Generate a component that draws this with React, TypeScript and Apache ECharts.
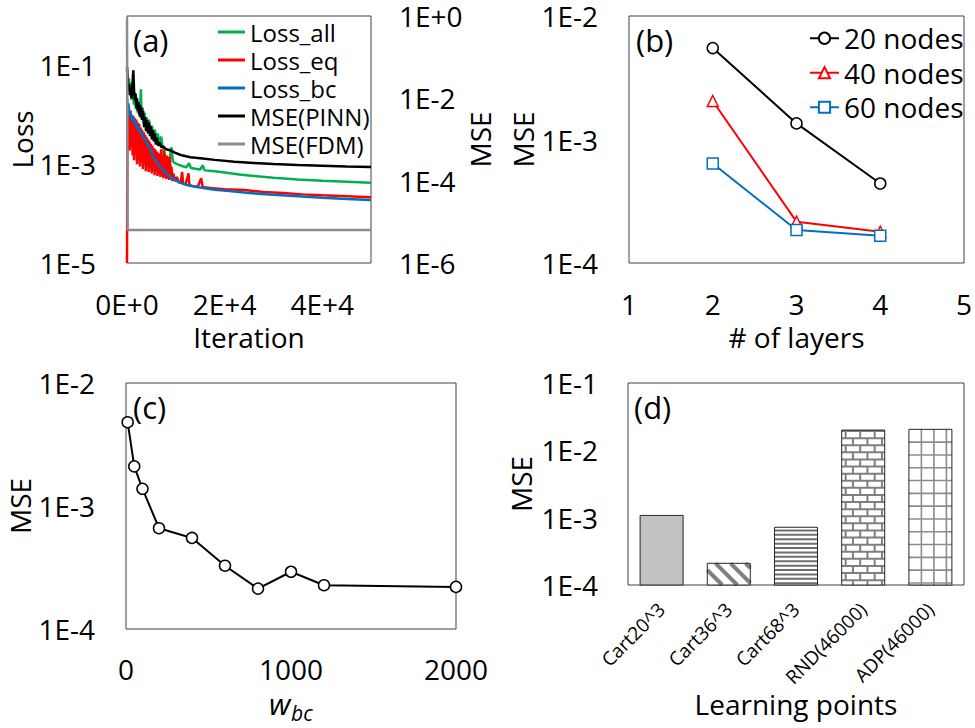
import React, { useEffect, useRef } from 'react';
import * as echarts from 'echarts';

const FONT = '"Open Sans", "Noto Sans", sans-serif';

// ---------- panel (a): training history [iteration, value] ----------
const lossAll: [number, number][] = [
  [0, 8e-2], [200, 3e-2], [400, 5.5e-2], [600, 2.5e-2], [800, 4.5e-2], [1000, 2e-2], [1200, 3.5e-2],
  [1400, 1.6e-2], [1600, 2.8e-2], [1800, 1.3e-2], [2000, 2.2e-2], [2200, 1.1e-2], [2400, 1.8e-2],
  [2600, 9e-3], [2850, 3.3e-2], [3000, 8e-3], [3200, 1.4e-2], [3400, 7e-3], [3600, 1.1e-2], [3800, 6e-3],
  [4000, 9e-3], [4200, 5.5e-3], [4500, 8e-3], [4800, 4.5e-3], [5100, 6e-3], [5400, 3.8e-3], [5700, 5e-3],
  [6000, 3.2e-3], [6300, 4.2e-3], [6600, 2.7e-3], [7000, 3.6e-3], [7300, 2.2e-3], [7600, 1.8e-3],
  [7900, 1.4e-3], [8200, 1.2e-3], [8600, 1.1e-3], [9100, 2.2e-3], [9400, 1.15e-3], [9800, 1.05e-3],
  [10300, 1.0e-3], [10800, 9.6e-4], [11400, 9.1e-4], [12200, 8.7e-4], [12700, 1.05e-3], [13100, 8.4e-4],
  [14000, 8.1e-4], [15000, 7.8e-4], [15500, 9.5e-4], [15900, 7.5e-4], [18000, 7.2e-4], [20000, 6.8e-4],
  [23000, 6.2e-4], [26000, 5.8e-4], [30000, 5.3e-4], [35000, 4.9e-4], [40000, 4.6e-4], [45000, 4.4e-4],
  [50000, 4.2e-4],
];
const lossEq: [number, number][] = [
  [0, 1e-5], [100, 1.4e-2], [250, 2.5e-3], [400, 1.3e-2], [550, 1.9e-3], [700, 1.2e-2], [850, 2.2e-3],
  [1000, 1.0e-2], [1150, 1.5e-3], [1300, 9.5e-3], [1450, 1.2e-3], [1600, 8.5e-3], [1750, 1.6e-3],
  [1900, 8e-3], [2050, 1.0e-3], [2200, 7e-3], [2350, 1.2e-3], [2500, 6.5e-3], [2650, 9e-4], [2800, 5.5e-3],
  [2950, 1.1e-3], [3100, 5e-3], [3250, 8e-4], [3400, 4.5e-3], [3550, 1.0e-3], [3700, 4e-3], [3850, 7.2e-4],
  [4000, 3.6e-3], [4150, 9e-4], [4300, 3.2e-3], [4450, 7e-4], [4600, 2.9e-3], [4750, 8.5e-4], [4900, 2.6e-3],
  [5050, 6.5e-4], [5200, 2.4e-3], [5350, 7.5e-4], [5500, 2.1e-3], [5650, 6e-4], [5800, 2e-3], [5950, 7e-4],
  [6100, 1.8e-3], [6250, 5.8e-4], [6400, 1.7e-3], [6550, 6.5e-4], [6700, 1.6e-3], [6850, 5.5e-4],
  [7000, 2.0e-3], [7150, 6e-4], [7300, 1.4e-3], [7450, 5.2e-4], [7600, 1.9e-3], [7750, 5.5e-4],
  [7900, 1.3e-3], [8050, 5e-4], [8200, 1.5e-3], [8350, 5.2e-4], [8500, 1.4e-3], [8650, 4.8e-4],
  [8800, 1.4e-3], [8950, 5e-4], [9100, 9e-4], [9300, 4.6e-4], [9500, 6.5e-4], [9800, 4.5e-4],
  [10200, 5.5e-4], [10600, 4.3e-4], [11000, 4.2e-4], [11300, 7e-4], [11500, 4.0e-4], [12000, 3.9e-4],
  [12600, 6.5e-4], [12800, 3.7e-4], [13500, 3.6e-4], [14500, 3.5e-4], [15200, 5.2e-4], [15500, 3.45e-4],
  [17000, 3.3e-4], [20000, 3.1e-4], [24000, 3.0e-4], [28000, 2.75e-4], [32000, 2.6e-4], [36000, 2.45e-4],
  [40000, 2.35e-4], [45000, 2.25e-4], [50000, 2.15e-4],
];
const lossBc: [number, number][] = [
  [0, 2.2e-2], [150, 1.4e-2], [300, 1.7e-2], [500, 1.0e-2], [700, 1.2e-2], [900, 8e-3], [1100, 9.5e-3],
  [1300, 7e-3], [1500, 8e-3], [1700, 6e-3], [1900, 6.8e-3], [2100, 5.2e-3], [2300, 5.8e-3], [2500, 4.6e-3],
  [2700, 5e-3], [2900, 4e-3], [3100, 4.3e-3], [3400, 3.4e-3], [3700, 3.3e-3], [4000, 2.6e-3], [4300, 2.5e-3],
  [4700, 2.0e-3], [5000, 1.8e-3], [5400, 1.4e-3], [5800, 1.25e-3], [6300, 1.0e-3], [6800, 8.8e-4],
  [7400, 7.6e-4], [8000, 6.6e-4], [8800, 5.6e-4], [9800, 4.8e-4], [11000, 4.2e-4], [12300, 3.8e-4],
  [14000, 3.5e-4], [15600, 3.3e-4], [18000, 3.05e-4], [21000, 2.85e-4], [25000, 2.6e-4], [30000, 2.4e-4],
  [35000, 2.25e-4], [40000, 2.1e-4], [45000, 1.98e-4], [50000, 1.88e-4],
];
const msePinn: [number, number][] = [
  [0, 5.8e-2], [150, 2.5e-2], [300, 1.6e-2], [450, 2.2e-2], [600, 1.2e-2], [750, 1.8e-2], [900, 1.0e-2],
  [1100, 2.0e-2], [1300, 4.8e-2], [1450, 1.5e-2], [1600, 9e-3], [1750, 1.3e-2], [1900, 6e-3], [2050, 1.0e-2],
  [2200, 5e-3], [2350, 8e-3], [2500, 4e-3], [2650, 7e-3], [2800, 3.5e-3], [2950, 6e-3], [3100, 3e-3],
  [3300, 5e-3], [3500, 2.0e-3], [3700, 3.5e-3], [3900, 1.6e-3], [4100, 3.0e-3], [4300, 1.4e-3],
  [4500, 2.6e-3], [4700, 1.2e-3], [4900, 2.1e-3], [5100, 1.0e-3], [5300, 1.7e-3], [5500, 9e-4],
  [5700, 1.4e-3], [5900, 7.5e-4], [6100, 1.1e-3], [6400, 7e-4], [6700, 8.5e-4], [7000, 6.5e-4],
  [7400, 6.8e-4], [8000, 5.8e-4], [8800, 5.5e-4], [9800, 4.8e-4], [11000, 4.2e-4], [13000, 3.7e-4],
  [15000, 3.5e-4], [18000, 3.2e-4], [22000, 2.9e-4], [26000, 2.7e-4], [30000, 2.55e-4], [35000, 2.4e-4],
  [40000, 2.3e-4], [45000, 2.2e-4], [50000, 2.15e-4],
];
const mseFdm: [number, number][] = [[0, 0.9], [120, 6.3e-6], [50000, 6.3e-6]];

// ---------- panel (b) ----------
const layerCounts = [2, 3, 4];
const mse20Nodes = [5.5e-3, 1.35e-3, 4.4e-4];
const mse40Nodes = [2.05e-3, 2.16e-4, 1.79e-4];
const mse60Nodes = [6.4e-4, 1.85e-4, 1.66e-4];

// ---------- panel (c) ----------
const wbcValues = [10, 50, 100, 200, 400, 600, 800, 1000, 1200, 2000];
const mseByWbc = [4.8e-3, 2.1e-3, 1.38e-3, 6.6e-4, 5.5e-4, 3.27e-4, 2.13e-4, 2.92e-4, 2.27e-4, 2.2e-4];

// ---------- panel (d) ----------
const learningPoints = ['Cart20^3', 'Cart36^3', 'Cart68^3', 'RND(46000)', 'ADP(46000)'];
const mseByPoints = [1.08e-3, 2.1e-4, 7.2e-4, 2.0e-2, 2.05e-2];

const sciLabel = (v: number) => {
  if (v === 0) return '0E+0';
  const e = Math.floor(Math.log10(Math.abs(v)) + 1e-9);
  const m = Math.round(v / Math.pow(10, e));
  return `${m}E${e >= 0 ? '+' : ''}${e}`;
};
const logLabel = (v: number) => {
  const e = Math.round(Math.log10(v));
  return `1E${e >= 0 ? '+' : ''}${e}`;
};
const plainLabel = (v: number) => String(v);

const D_AXIS_MIN = 1e-4;

function renderPatternBar(params: any, api: any) {
  const i = params.dataIndex;
  const v = api.value(1);
  const top = api.coord([i, v]);
  const base = api.coord([i, D_AXIS_MIN]);
  const band = api.size([1, 0], [i, 1e-3])[0];
  const w = band * 0.64;
  const x0 = top[0] - w / 2;
  const x1 = top[0] + w / 2;
  const y0 = top[1];
  const y1 = base[1];
  const h = y1 - y0;
  const children: any[] = [];
  children.push({
    type: 'rect',
    shape: { x: x0, y: y0, width: w, height: h },
    style: { fill: i === 0 ? '#C2C2C2' : '#ffffff' },
  });
  const line = (ax: number, ay: number, bx: number, by: number, color: string, lw: number) =>
    children.push({ type: 'line', shape: { x1: ax, y1: ay, x2: bx, y2: by }, style: { stroke: color, lineWidth: lw } });
  if (i === 1) {
    for (let s = x0 - h; s < x1; s += 15) {
      let ax = s, ay = y0, bx = s + h, by = y1;
      if (ax < x0) { ay = y0 + (x0 - s); ax = x0; }
      if (bx > x1) { by = y0 + (x1 - s); bx = x1; }
      if (bx > ax) line(ax, ay, bx, by, '#808080', 4);
    }
  } else if (i === 2) {
    for (let y = y0 + 3.2; y < y1 - 1; y += 4.4) line(x0, y, x1, y, '#6E6E6E', 2);
  } else if (i === 3) {
    const rh = 7.1, bw = 14.5;
    let row = 0;
    for (let y = y0 + 1; y < y1; y += rh, row++) {
      line(x0, y, x1, y, '#7F7F7F', 2);
      const off = row % 2 === 0 ? 4 : 4 + bw / 2;
      const yb = Math.min(y + rh, y1);
      for (let x = x0 + off; x < x1 - 1; x += bw) line(x, y, x, yb, '#7F7F7F', 2);
    }
  } else if (i === 4) {
    for (let x = x0 + 12.5; x < x1 - 1; x += 12.5) line(x, y0, x, y1, '#8C8C8C', 1.6);
    for (let y = y0 + 12.8; y < y1 - 1; y += 12.8) line(x0, y, x1, y, '#8C8C8C', 1.6);
  }
  children.push({
    type: 'rect',
    shape: { x: x0, y: y0, width: w, height: h },
    style: { fill: 'none', stroke: '#262626', lineWidth: 1 },
  });
  return { type: 'group', children };
}

export default function App() {
  const ref = useRef<HTMLDivElement>(null);
  useEffect(() => {
    if (!ref.current) return;
    const chart = echarts.init(ref.current, undefined, { renderer: 'svg' });
    const gridBase = { show: true, borderColor: '#404040', borderWidth: 1, backgroundColor: 'transparent', containLabel: false, outerBoundsMode: 'none' };
    const labelStyle = { fontSize: 28, color: '#000', fontFamily: FONT };
    const nameStyle = { fontSize: 28, color: '#000', fontFamily: FONT };
    const axisBase = {
      axisTick: { show: false },
      axisLine: { show: false },
      splitLine: { show: false },
      nameLocation: 'middle',
      nameTextStyle: nameStyle,
    };
    const lineA = (name: string, data: any, color: string, yAxisIndex: number) => ({
      type: 'line', name, data, xAxisIndex: 0, yAxisIndex, symbol: 'none', showSymbol: false,
      lineStyle: { color, width: 2.5 }, itemStyle: { color }, silent: true, animation: false,
    });
    const lineB = (name: string, vals: number[], color: string, symbol: string) => ({
      type: 'line', name, data: layerCounts.map((x, k) => [x, vals[k]]), xAxisIndex: 1, yAxisIndex: 2,
      symbol, symbolSize: 11, showSymbol: true,
      lineStyle: { color, width: 2 }, itemStyle: { color: '#ffffff', borderColor: color, borderWidth: 1.5 },
      silent: true, animation: false,
    });
    const option: any = {
      animation: false,
      textStyle: { fontFamily: FONT, color: '#000' },
      grid: [
        { ...gridBase, left: 127, top: 16, width: 244, height: 247 },
        { ...gridBase, left: 629, top: 16, width: 335, height: 247 },
        { ...gridBase, left: 126, top: 383, width: 330, height: 246 },
        { ...gridBase, left: 628, top: 383, width: 336, height: 202 },
      ],
      xAxis: [
        { ...axisBase, gridIndex: 0, type: 'value', min: 0, max: 50000, interval: 20000,
          axisLabel: { ...labelStyle, margin: 27, formatter: sciLabel, showMaxLabel: false },
          name: 'Iteration', nameGap: 60 },
        { ...axisBase, gridIndex: 1, type: 'value', min: 1, max: 5, interval: 1,
          axisLabel: { ...labelStyle, margin: 27, formatter: plainLabel }, name: '# of layers', nameGap: 60 },
        { ...axisBase, gridIndex: 2, type: 'value', min: 0, max: 2000, interval: 1000,
          axisLabel: { ...labelStyle, margin: 26, formatter: plainLabel } },
        { ...axisBase, gridIndex: 3, type: 'category', data: learningPoints,
          axisLabel: { fontSize: 19, color: '#000', fontFamily: FONT, rotate: 45, margin: 21, interval: 0 },
          name: 'Learning points', nameGap: 103 },
      ],
      yAxis: [
        { ...axisBase, gridIndex: 0, type: 'log', logBase: 10, min: 1e-5, max: 1, interval: 2, position: 'left',
          axisLabel: { ...labelStyle, margin: 31, formatter: logLabel, showMaxLabel: false }, name: 'Loss', nameGap: 89 },
        { ...axisBase, gridIndex: 0, type: 'log', logBase: 10, min: 1e-6, max: 1, interval: 2, position: 'right',
          axisLabel: { ...labelStyle, margin: 28, formatter: logLabel }, name: 'MSE', nameGap: 94 },
        { ...axisBase, gridIndex: 1, type: 'log', logBase: 10, min: 1e-4, max: 1e-2, interval: 1,
          axisLabel: { ...labelStyle, margin: 31, formatter: logLabel }, name: 'MSE', nameGap: 92 },
        { ...axisBase, gridIndex: 2, type: 'log', logBase: 10, min: 1e-4, max: 1e-2, interval: 1,
          axisLabel: { ...labelStyle, margin: 31, formatter: logLabel }, name: 'MSE', nameGap: 92 },
        { ...axisBase, gridIndex: 3, type: 'log', logBase: 10, min: D_AXIS_MIN, max: 1e-1, interval: 1,
          axisLabel: { ...labelStyle, margin: 30, formatter: logLabel }, name: 'MSE', nameGap: 93 },
      ],
      legend: [
        {
          data: ['Loss_all', 'Loss_eq', 'Loss_bc', 'MSE(PINN)', 'MSE(FDM)'],
          orient: 'vertical', left: 218, top: 18, padding: 0, itemGap: 0,
          icon: 'rect', itemWidth: 27, itemHeight: 3,
          textStyle: { fontSize: 24, lineHeight: 28, color: '#000', fontFamily: FONT },
          selectedMode: false,
        },
        {
          data: ['20 nodes', '40 nodes', '60 nodes'],
          orient: 'vertical', left: 809, top: 21, padding: 0, itemGap: 0,
          itemWidth: 29, itemHeight: 14,
          textStyle: { fontSize: 28, lineHeight: 34.5, color: '#000', fontFamily: FONT },
          selectedMode: false,
        },
      ],
      series: [
        lineA('Loss_all', lossAll, '#00B050', 0),
        lineA('Loss_eq', lossEq, '#FF0000', 0),
        lineA('Loss_bc', lossBc, '#0070C0', 0),
        lineA('MSE(PINN)', msePinn, '#000000', 1),
        lineA('MSE(FDM)', mseFdm, '#8C8C8C', 1),
        lineB('20 nodes', mse20Nodes, '#000000', 'circle'),
        lineB('40 nodes', mse40Nodes, '#FF0000', 'triangle'),
        lineB('60 nodes', mse60Nodes, '#0070C0', 'rect'),
        {
          type: 'line', name: 'MSE vs wbc', data: wbcValues.map((x, k) => [x, mseByWbc[k]]),
          xAxisIndex: 2, yAxisIndex: 3, symbol: 'circle', symbolSize: 11, showSymbol: true,
          lineStyle: { color: '#000', width: 2 }, itemStyle: { color: '#fff', borderColor: '#000', borderWidth: 1.5 },
          silent: true, animation: false,
        },
        {
          type: 'custom', name: 'MSE by points', xAxisIndex: 3, yAxisIndex: 4,
          data: mseByPoints.map((v, k) => [k, v]), encode: { x: 0, y: 1 },
          renderItem: renderPatternBar, silent: true, animation: false,
        },
      ],
      graphic: [
        { type: 'text', x: 133, y: 40, style: { text: '(a)', fontSize: 31, fontFamily: FONT, fill: '#000', verticalAlign: 'middle' } },
        { type: 'text', x: 636, y: 40, style: { text: '(b)', fontSize: 31, fontFamily: FONT, fill: '#000', verticalAlign: 'middle' } },
        { type: 'text', x: 133, y: 407, style: { text: '(c)', fontSize: 31, fontFamily: FONT, fill: '#000', verticalAlign: 'middle' } },
        { type: 'text', x: 634, y: 407, style: { text: '(d)', fontSize: 31, fontFamily: FONT, fill: '#000', verticalAlign: 'middle' } },
        { type: 'text', x: 269, y: 703, style: { text: 'w', fontSize: 30, fontStyle: 'italic', fontFamily: FONT, fill: '#000', verticalAlign: 'middle' } },
        { type: 'text', x: 291, y: 713, style: { text: 'bc', fontSize: 21, fontStyle: 'italic', fontFamily: FONT, fill: '#000', verticalAlign: 'middle' } },
      ],
    };
    chart.setOption(option);
    return () => chart.dispose();
  }, []);
  return <div ref={ref} style={{ position: 'absolute', left: 0, top: 0, width: 975, height: 728, background: '#fff' }} />;
}
